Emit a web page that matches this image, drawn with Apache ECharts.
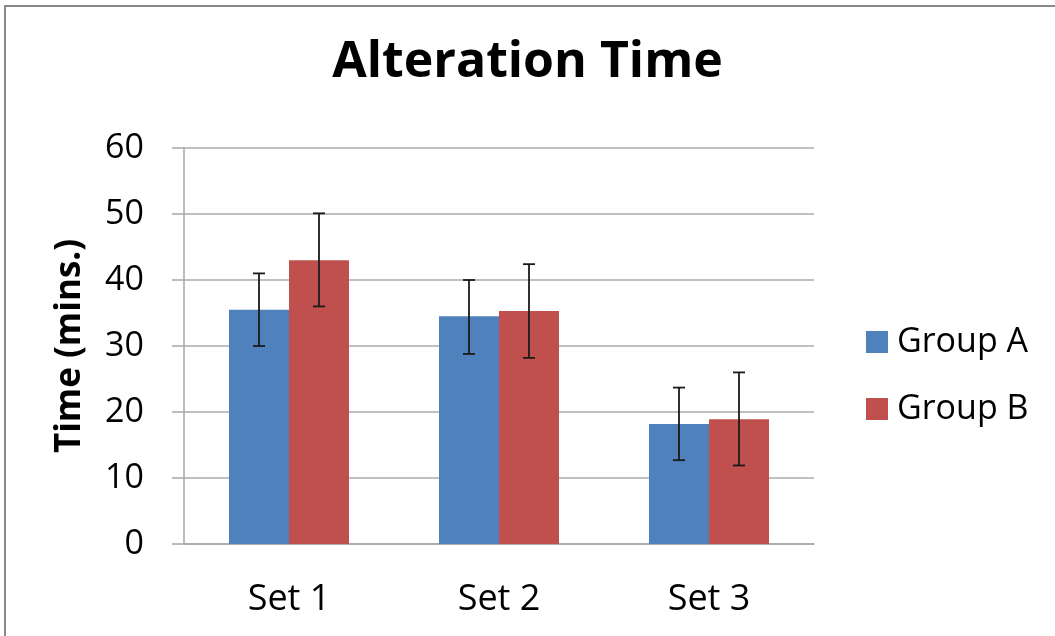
<!DOCTYPE html>
<html><head><meta charset="utf-8">
<script src="https://cdn.jsdelivr.net/npm/echarts@6/dist/echarts.min.js"></script>
<style>html,body{margin:0;padding:0;background:#fff}#c{width:1055px;height:636px}</style>
</head><body><div id="c"></div>
<script>
const categories = ['Set 1', 'Set 2', 'Set 3'];
const groupA = [35.5, 34.5, 18.2];
const groupB = [43.0, 35.3, 18.9];
const errA = [[30.0, 41.0], [28.8, 40.0], [12.7, 23.7]];
const errB = [[36.0, 50.1], [28.2, 42.4], [11.9, 26.0]];
const yTicks = [0, 10, 20, 30, 40, 50, 60];

const FONT = '"Open Sans"';
const BAR_W = 60;

function errSeries(name, errs, offset) {
  return {
    type: 'custom', name: name + ' err', silent: true, z: 5,
    data: errs.map((e, i) => [i, e[0], e[1]]),
    renderItem: function (params, api) {
      const lo = api.coord([api.value(0), api.value(1)]);
      const hi = api.coord([api.value(0), api.value(2)]);
      const x = lo[0] + offset;
      const cw = 6;
      const st = { stroke: '#1a1a1a', lineWidth: 1.8 };
      return { type: 'group', children: [
        { type: 'line', shape: { x1: x, y1: lo[1], x2: x, y2: hi[1] }, style: st },
        { type: 'line', shape: { x1: x - cw, y1: lo[1], x2: x + cw, y2: lo[1] }, style: st },
        { type: 'line', shape: { x1: x - cw, y1: hi[1], x2: x + cw, y2: hi[1] }, style: st }
      ]};
    }
  };
}

const chart = echarts.init(document.getElementById('c'));
chart.setOption({
  animation: false,
  textStyle: { fontFamily: FONT },
  title: { text: 'Alteration Time', left: 'center', top: 33,
    textStyle: { fontFamily: FONT, fontSize: 50, fontWeight: 'bold', color: '#000' } },
  graphic: [{ type: 'rect', z: -10, shape: { x: 5, y: 6, width: 1200, height: 800 },
    style: { fill: 'none', stroke: '#8a8a8a', lineWidth: 2 } }],
  legend: {
    orient: 'vertical', left: 861, top: 320, itemWidth: 22, itemHeight: 22, itemGap: 33,
    icon: 'rect',
    textStyle: { fontFamily: FONT, fontSize: 34, color: '#000', padding: [0, 0, 0, 4] },
    data: ['Group A', 'Group B']
  },
  grid: { left: 184, right: 241, top: 148, bottom: 92 },
  xAxis: {
    type: 'category', data: categories,
    axisLine: { lineStyle: { color: '#a6a6a6', width: 1.5 } },
    axisTick: { show: false },
    axisLabel: { fontFamily: FONT, fontSize: 36, color: '#000', margin: 38 }
  },
  yAxis: {
    type: 'value', min: 0, max: 60, interval: 10,
    name: 'Time (mins.)', nameLocation: 'middle', nameGap: 96, nameRotate: 90,
    nameTextStyle: { fontFamily: FONT, fontSize: 35, fontWeight: 'bold', color: '#000' },
    axisLine: { show: true, lineStyle: { color: '#a6a6a6', width: 1.5 } },
    axisTick: { show: true, length: 12, lineStyle: { color: '#a6a6a6', width: 1.5 } },
    axisLabel: { fontFamily: FONT, fontSize: 34, color: '#000', margin: 40,
      formatter: v => yTicks.includes(v) ? String(v) : '' },
    splitLine: { lineStyle: { color: '#ababab', width: 1.5 } }
  },
  series: [
    { name: 'Group A', type: 'bar', data: groupA, barWidth: BAR_W, barGap: '0%',
      itemStyle: { color: '#4F81BD' } },
    { name: 'Group B', type: 'bar', data: groupB, barWidth: BAR_W, barGap: '0%',
      itemStyle: { color: '#C0504D' } },
    errSeries('Group A', errA, -BAR_W / 2),
    errSeries('Group B', errB, BAR_W / 2)
  ]
});
</script></body></html>
